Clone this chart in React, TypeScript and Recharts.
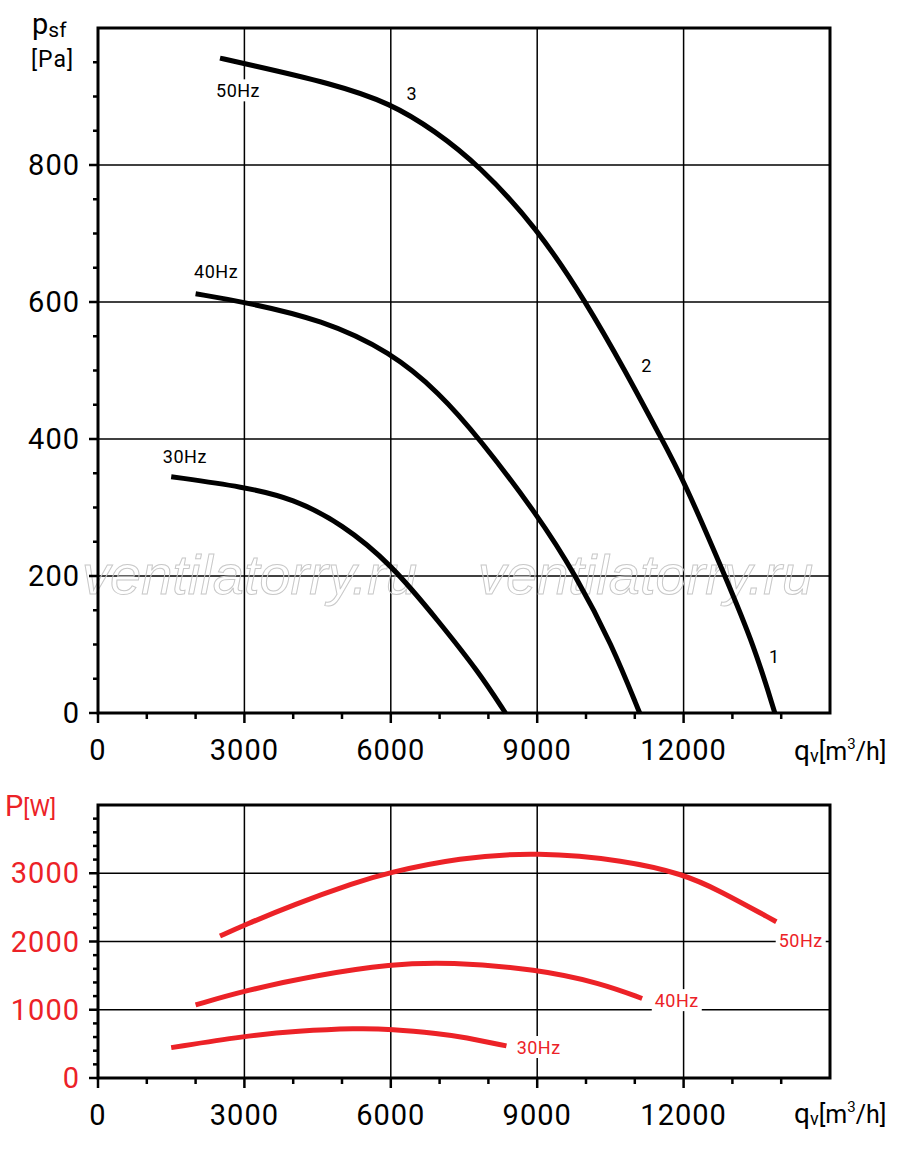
import React from "react";
import {
  CartesianGrid,
  ComposedChart,
  Customized,
  Line,
  ReferenceArea,
  ReferenceDot,
  XAxis,
  YAxis,
} from "recharts";

const FONT = "Roboto, 'DejaVu Sans', sans-serif";
const RED = "#ec2227";

// static pressure psf [Pa] vs airflow qv [m3/h]
const Q_50 = [2500, 3000, 4800, 6000, 6900, 7800, 9000, 10000, 10800, 11550, 12000, 12850, 13450, 13870];
const PSF_50 = [956, 948, 919, 890, 850, 800, 708, 600, 500, 400, 340, 200, 97, 0];
const Q_40 = [2000, 3000, 4600, 6000, 7000, 7800, 9000, 9800, 10530, 11100];
const PSF_40 = [612, 600, 574, 527, 467, 402, 290, 200, 100, 0];
const Q_30 = [1500, 3000, 4000, 5000, 6000, 7000, 7800, 8350];
const PSF_30 = [345, 330, 313, 276, 218, 132, 60, 0];

// power P [W] vs airflow
const QW_50 = [2500, 3000, 4000, 5300, 5900, 7400, 9000, 10800, 12000, 12700, 13900];
const W_50 = [2080, 2240, 2540, 2870, 3000, 3230, 3310, 3190, 2985, 2760, 2290];
const QW_40 = [2000, 3000, 4500, 6000, 7200, 9000, 10300, 11150];
const W_40 = [1070, 1280, 1510, 1670, 1700, 1595, 1390, 1165];
const QW_30 = [1500, 3000, 4100, 5300, 6000, 7000, 7500, 8370];
const W_30 = [445, 615, 690, 730, 718, 650, 600, 470];

const X_TICKS = [0, 1000, 2000, 3000, 4000, 5000, 6000, 7000, 8000, 9000, 10000, 11000, 12000, 13000, 14000];
const X_GRID = [3000, 6000, 9000, 12000];
const P_TICKS = [0, 50, 100, 150, 200, 250, 300, 350, 400, 450, 500, 550, 600, 650, 700, 750, 800, 850, 900, 950];
const P_GRID = [200, 400, 600, 800];
const W_TICKS = [0, 200, 400, 600, 800, 1000, 1200, 1400, 1600, 1800, 2000, 2200, 2400, 2600, 2800, 3000, 3200, 3400, 3600, 3800];
const W_GRID = [1000, 2000, 3000];

const zip = (qs: number[], vs: number[]) => qs.map((q, i) => ({ q, v: vs[i] }));

const XTick = (props: any) => {
  const { x, y, payload } = props;
  const major = payload.value % 3000 === 0;
  return (
    <g>
      <line x1={x} x2={x} y1={y} y2={y + (major ? 10 : 6)} stroke="#000" strokeWidth={2.5} />
      {major && (
        <text x={x} y={y + 37} textAnchor="middle" dominantBaseline="central" fontSize={29} letterSpacing={1} fontFamily={FONT} fill="#000">
          {payload.value}
        </text>
      )}
    </g>
  );
};

const yTick = (step: number, color: string) => (props: any) => {
  const { x, y, payload } = props;
  const major = payload.value % step === 0;
  return (
    <g>
      <line x1={x - (major ? 9 : 5)} x2={x} y1={y} y2={y} stroke="#000" strokeWidth={2.5} />
      {major && (
        <text x={x - 18} y={y} textAnchor="end" dominantBaseline="central" fontSize={29} letterSpacing={1} fontFamily={FONT} fill={color}>
          {payload.value}
        </text>
      )}
    </g>
  );
};

const tag = (text: string, color: string, bg: boolean) => (props: any) => {
  const { cx, cy } = props;
  const w = text.length * 11 + 6;
  return (
    <g>
      {bg && <rect x={cx - w / 2} y={cy - 11} width={w} height={22} fill="#fff" />}
      <text x={cx} y={cy} textAnchor="middle" dominantBaseline="central" fontSize={18} letterSpacing={0.5} fontFamily={FONT} fill={color}>
        {text}
      </text>
    </g>
  );
};

const Watermark = () => (
  <g fontFamily="'Liberation Sans', Arial, sans-serif" fontStyle="italic" fontSize={56} fill="none" stroke="#c8c8c8" strokeWidth={1}>
    <text x={82} y={594}>ventilatorry.ru</text>
    <text x={478} y={594}>ventilatorry.ru</text>
  </g>
);

const QvTitle = ({ top }: { top: number }) => (
  <text x={794} y={top} fontFamily={FONT} fill="#000">
    <tspan fontSize={28}>q</tspan>
    <tspan fontSize={18} dy={2}>v</tspan>
    <tspan fontSize={25} dy={-2}>[m</tspan>
    <tspan fontSize={15} dy={-11}>3</tspan>
    <tspan fontSize={25} dy={11}>/h]</tspan>
  </text>
);

const TopTitles = () => (
  <g>
    <text x={32} y={34} fontFamily={FONT} fill="#000">
      <tspan fontSize={29}>p</tspan>
      <tspan fontSize={21} dy={3}>sf</tspan>
    </text>
    <text x={31} y={67} fontFamily={FONT} fontSize={23} letterSpacing={1} fill="#000">[Pa]</text>
    <QvTitle top={760} />
  </g>
);

const BottomTitles = () => (
  <g>
    <text x={5} y={46} fontFamily={FONT} fill={RED}>
      <tspan fontSize={29}>P</tspan>
      <tspan fontSize={23}>[W]</tspan>
    </text>
    <QvTitle top={353} />
  </g>
);

export default function App() {
  return (
    <div style={{ position: "absolute", left: 0, top: 0, width: 900, height: 1152, background: "#fff", fontFamily: FONT }}>
      <ComposedChart width={900} height={770} margin={{ top: 28, right: 70, bottom: 0, left: 0 }}>
        <CartesianGrid stroke="#000" strokeWidth={1.5} verticalValues={X_GRID} horizontalValues={P_GRID} />
        <XAxis dataKey="q" type="number" domain={[0, 15000]} ticks={X_TICKS} interval={0} tickSize={0} tickMargin={0} height={57} axisLine={false} tick={<XTick />} />
        <YAxis type="number" domain={[0, 1000]} ticks={P_TICKS} interval={0} tickSize={0} tickMargin={0} width={98} axisLine={false} tick={yTick(200, "#000")} />
        <Customized component={Watermark} />
        <ReferenceArea x1={0} x2={15000} y1={0} y2={1000} fill="none" stroke="#000" strokeWidth={3} />
        <Line data={zip(Q_50, PSF_50)} dataKey="v" type="basis" stroke="#000" strokeWidth={5} dot={false} isAnimationActive={false} />
        <Line data={zip(Q_40, PSF_40)} dataKey="v" type="basis" stroke="#000" strokeWidth={5} dot={false} isAnimationActive={false} />
        <Line data={zip(Q_30, PSF_30)} dataKey="v" type="basis" stroke="#000" strokeWidth={5} dot={false} isAnimationActive={false} />
        <ReferenceDot x={2870} y={909} r={1} shape={tag("50Hz", "#000", true)} />
        <ReferenceDot x={2420} y={644} r={1} shape={tag("40Hz", "#000", true)} />
        <ReferenceDot x={1780} y={374} r={1} shape={tag("30Hz", "#000", true)} />
        <ReferenceDot x={6430} y={904} r={1} shape={tag("3", "#000", false)} />
        <ReferenceDot x={11240} y={507} r={1} shape={tag("2", "#000", false)} />
        <ReferenceDot x={13860} y={83} r={1} shape={tag("1", "#000", false)} />
        <Customized component={TopTitles} />
      </ComposedChart>
      <ComposedChart width={900} height={382} margin={{ top: 35, right: 70, bottom: 0, left: 0 }}>
        <CartesianGrid stroke="#000" strokeWidth={1.5} verticalValues={X_GRID} horizontalValues={W_GRID} />
        <XAxis dataKey="q" type="number" domain={[0, 15000]} ticks={X_TICKS} interval={0} tickSize={0} tickMargin={0} height={74} axisLine={false} tick={<XTick />} />
        <YAxis type="number" domain={[0, 4000]} ticks={W_TICKS} interval={0} tickSize={0} tickMargin={0} width={98} axisLine={false} tick={yTick(1000, RED)} />
        <ReferenceArea x1={0} x2={15000} y1={0} y2={4000} fill="none" stroke="#000" strokeWidth={3} />
        <Line data={zip(QW_50, W_50)} dataKey="v" type="basis" stroke={RED} strokeWidth={5} dot={false} isAnimationActive={false} />
        <Line data={zip(QW_40, W_40)} dataKey="v" type="basis" stroke={RED} strokeWidth={5} dot={false} isAnimationActive={false} />
        <Line data={zip(QW_30, W_30)} dataKey="v" type="basis" stroke={RED} strokeWidth={5} dot={false} isAnimationActive={false} />
        <ReferenceDot x={14400} y={2020} r={1} shape={tag("50Hz", RED, true)} />
        <ReferenceDot x={11860} y={1141} r={1} shape={tag("40Hz", RED, true)} />
        <ReferenceDot x={9030} y={454} r={1} shape={tag("30Hz", RED, true)} />
        <Customized component={BottomTitles} />
      </ComposedChart>
    </div>
  );
}
